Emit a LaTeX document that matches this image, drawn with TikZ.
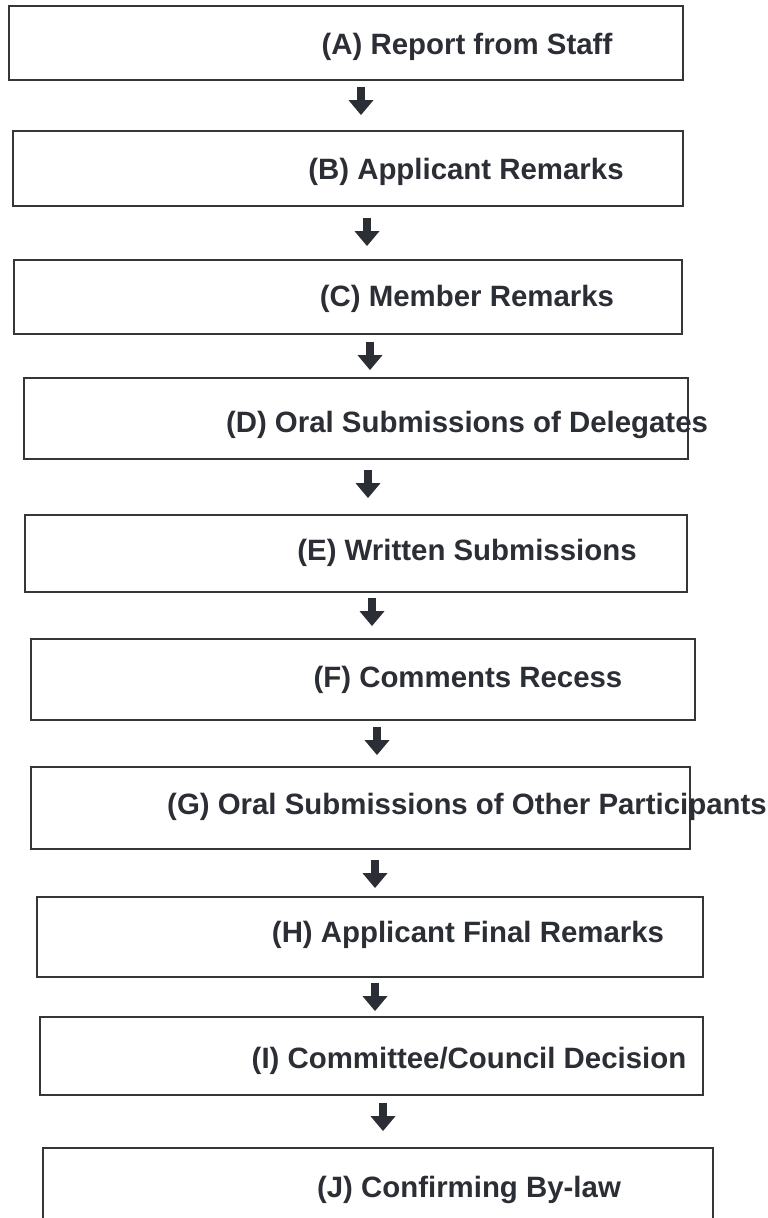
\documentclass[tikz,border=0pt]{standalone}
\usepackage{fontspec}
\setmainfont{Liberation Sans}
\usetikzlibrary{arrows.meta,calc}
\definecolor{boxline}{HTML}{36363A}
\definecolor{inkdark}{HTML}{2C2E35}

\begin{document}
\begin{tikzpicture}[x=1pt,y=-1pt,
                stepbox/.style={draw=boxline,line width=2.8pt,rectangle,inner sep=0pt},
                steptext/.style={anchor=base,text=inkdark,inner sep=0pt,
                                 font=\fontsize{29.4}{35}\selectfont\bfseries},
                flowarrow/.style={-{Triangle[width=24pt,length=15pt]},line width=8pt,draw=inkdark}]

\useasboundingbox (0,0) rectangle (768,1218);
\fill[white] (0,0) rectangle (768,1218);
\clip (0,0) rectangle (768,1218);

% boxes
\node[stepbox,minimum width=674pt,minimum height=74pt] (A) at (346,43)     {};
\node[stepbox,minimum width=670pt,minimum height=75pt] (B) at (348,168.5)  {};
\node[stepbox,minimum width=668pt,minimum height=74pt] (C) at (348,297)    {};
\node[stepbox,minimum width=664pt,minimum height=81pt] (D) at (356,418.5)  {};
\node[stepbox,minimum width=662pt,minimum height=77pt] (E) at (356,553.5)  {};
\node[stepbox,minimum width=664pt,minimum height=81pt] (F) at (363,679.5)  {};
\node[stepbox,minimum width=659pt,minimum height=82pt] (G) at (360.5,808)  {};
\node[stepbox,minimum width=666pt,minimum height=80pt] (H) at (370,937)    {};
\node[stepbox,minimum width=663pt,minimum height=78pt] (I) at (371.5,1056) {};
\node[stepbox,minimum width=670pt,minimum height=82pt] (J) at (378,1189)   {};

% labels
\node[steptext] (tA) at (467,54.5)   {(A) Report from Staff};
\node[steptext] (tB) at (466,179.5)  {(B) Applicant Remarks};
\node[steptext] (tC) at (467,306.5)  {(C) Member Remarks};
\node[steptext] (tD) at (467,432.5)  {(D) Oral Submissions of Delegates};
\node[steptext] (tE) at (467,560.5)  {(E) Written Submissions};
\node[steptext] (tF) at (468,687.5)  {(F) Comments Recess};
\node[steptext] (tG) at (467,814.5)  {(G) Oral Submissions of Other Participants};
\node[steptext] (tH) at (468,942.5)  {(H) Applicant Final Remarks};
\node[steptext] (tI) at (469,1068.5) {(I) Committee/Council Decision};
\node[steptext] (tJ) at (469,1197.5) {(J) Confirming By-law};

% arrows
\draw[flowarrow,shorten <=5.5pt,shorten >=14.5pt]  ([xshift=15pt]A.south)   -- ([xshift=15pt]A.south |- B.north);
\draw[flowarrow,shorten <=10.5pt,shorten >=12.5pt] ([xshift=19pt]B.south)   -- ([xshift=19pt]B.south |- C.north);
\draw[flowarrow,shorten <=6.5pt,shorten >=6.5pt]   ([xshift=22pt]C.south)   -- ([xshift=22pt]C.south |- D.north);
\draw[flowarrow,shorten <=9.5pt,shorten >=15.5pt]  ([xshift=12pt]D.south)   -- ([xshift=12pt]D.south |- E.north);
\draw[flowarrow,shorten <=4.5pt,shorten >=11.5pt]  ([xshift=16pt]E.south)   -- ([xshift=16pt]E.south |- F.north);
\draw[flowarrow,shorten <=5.5pt,shorten >=10.5pt]  ([xshift=14pt]F.south)   -- ([xshift=14pt]F.south |- G.north);
\draw[flowarrow,shorten <=9.5pt,shorten >=7.5pt]   ([xshift=14.5pt]G.south) -- ([xshift=14.5pt]G.south |- H.north);
\draw[flowarrow,shorten <=4.5pt,shorten >=4.5pt]   ([xshift=5pt]H.south)    -- ([xshift=5pt]H.south |- I.north);
\draw[flowarrow,shorten <=6.5pt,shorten >=15.5pt]  ([xshift=11.5pt]I.south) -- ([xshift=11.5pt]I.south |- J.north);
\end{tikzpicture}
\end{document}
